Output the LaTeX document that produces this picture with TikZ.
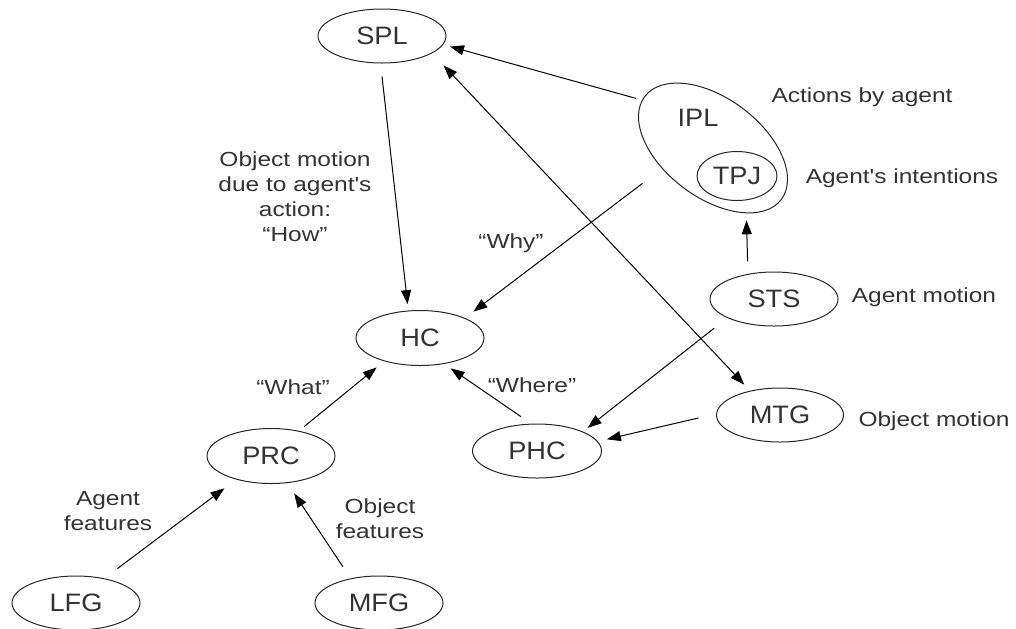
\documentclass[tikz,border=0pt]{standalone}
\usepackage{fontspec}
\setmainfont{Liberation Sans}
\newfontfamily\regionfont[FakeStretch=1.08]{Liberation Sans}
\newfontfamily\notefont[FakeStretch=1.2]{Liberation Sans}
\usetikzlibrary{shapes.geometric, arrows.meta}
\definecolor{ink}{HTML}{333333}

\begin{document}
\begin{tikzpicture}[
		x=0.5pt, y=-0.5pt,
		>={Triangle[length=7pt, width=5pt]},
		region/.style={ellipse, draw=black!85, line width=0.5pt, inner sep=0pt,
			minimum width=64pt, minimum height=27pt, text=ink,
			font=\regionfont\fontsize{12.6}{14}\selectfont},
		note/.style={text=ink, align=center, font=\notefont\fontsize{10.2}{12.5}\selectfont},
		link/.style={->, line width=0.5pt}
	]

	\useasboundingbox (0,0) rectangle (1016,628);

	\node[region] at (382,36) (SPL) {SPL};
	\node[region, rotate=-37, minimum width=85.5pt, minimum height=49.5pt] at (713,148) (IPL) {};
	\node[text=ink, font=\regionfont\fontsize{12.6}{14}\selectfont] at (698,118) (IPLname) {IPL};
	\node[region, minimum width=40pt, minimum height=24.5pt] at (737,176) (TPJ) {TPJ};
	\node[region] at (774,299) (STS) {STS};
	\node[region, minimum width=63.5pt] at (780,415) (MTG) {MTG};
	\node[region, minimum height=27.5pt] at (420,338) (HC) {HC};
	\node[region, minimum height=27.5pt] at (271,456) (PRC) {PRC};
	\node[region, minimum width=64.5pt] at (537,451) (PHC) {PHC};
	\node[region] at (76,603) (LFG) {LFG};
	\node[region] at (379,603) (MFG) {MFG};

	\draw[link, shorten <=6.5pt, shorten >=3.2pt] (SPL.-93) -- (HC.113);
	\draw[link, shorten <=3pt, shorten >=3.5pt] (IPL.183) -- (SPL.-8);
	\draw[link, <->, shorten <=8.3pt, shorten >=4.2pt] (SPL.-19) -- (MTG.141);
	\draw[link, shorten <=12.2pt, shorten >=5.2pt] (IPL.239) -- (HC.24);
	\draw[link, shorten <=6.2pt, shorten >=3.5pt] (STS.136) -- (IPL.-26);
	\draw[link, shorten <=8.3pt, shorten >=3pt] (STS.202) -- (PHC.23);
	\draw[link, shorten <=9pt, shorten >=4.6pt] (MTG.179) -- (PHC.9);
	\draw[link, shorten <=6.2pt, shorten >=3.9pt] (PHC.102) -- (HC.-47);
	\draw[link, shorten <=3.3pt, shorten >=4.8pt] (PRC.42) -- (HC.213);
	\draw[link, shorten <=8.1pt, shorten >=7.3pt] (LFG.41) -- (PRC.214);
	\draw[link, shorten <=7pt, shorten >=6.2pt] (MFG.139) -- (PRC.-59);

	\node[note] at (862,97) (actions) {Actions by agent};
	\node[note] at (902,178) (intentions) {Agent's intentions};
	\node[note] at (924,297) (agentmove) {Agent motion};
	\node[note] at (934,421) (objectmove) {Object motion};
	\node[note] at (295,197) (how) {Object motion\\due to agent's\\action:\\“How”};
	\node[note] at (511,243) (why) {“Why”};
	\node[note] at (293,387) (what) {“What”};
	\node[note] at (532,385) (where) {“Where”};
	\node[note] at (108,511) (agentfeat) {Agent\\features};
	\node[note] at (380,519) (objectfeat) {Object\\features};

\end{tikzpicture}
\end{document}
